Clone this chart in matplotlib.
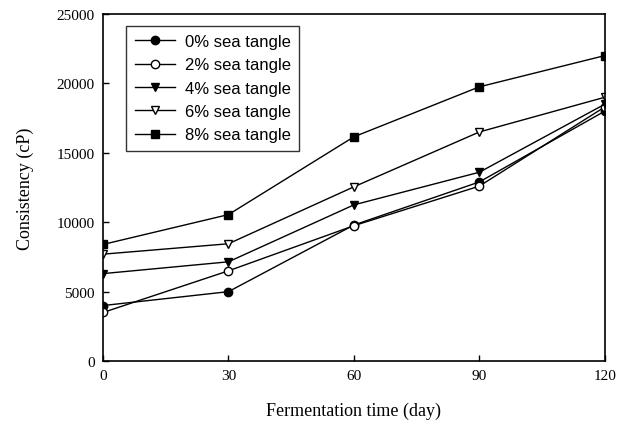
import matplotlib
matplotlib.use("Agg")
import matplotlib.pyplot as plt

# fermentation time (day)
days = [0, 30, 60, 90, 120]

# consistency (cP) per sea tangle level
sea0 = [4000, 5000, 9800, 12900, 18000]
sea2 = [3500, 6500, 9750, 12600, 18300]
sea4 = [6300, 7150, 11250, 13600, 18500]
sea6 = [7700, 8450, 12550, 16500, 19000]
sea8 = [8400, 10550, 16150, 19750, 22000]

labels = ["0% sea tangle", "2% sea tangle", "4% sea tangle",
          "6% sea tangle", "8% sea tangle"]

xticks = [0, 30, 60, 90, 120]
yticks = [0, 5000, 10000, 15000, 20000, 25000]

fig = plt.figure(figsize=(6.28, 4.27), dpi=100)
ax = fig.add_axes([0.164, 0.152, 0.799, 0.813])

serif = "Liberation Serif"
sans = "Liberation Sans"

ax.plot(days, sea0, color="black", lw=1, marker="o", ms=6,
        mfc="black", mec="black", label=labels[0])
ax.plot(days, sea2, color="black", lw=1, marker="o", ms=6,
        mfc="white", mec="black", label=labels[1])
ax.plot(days, sea4, color="black", lw=1, marker="v", ms=6,
        mfc="black", mec="black", label=labels[2])
ax.plot(days, sea6, color="black", lw=1, marker="v", ms=6,
        mfc="white", mec="black", label=labels[3])
ax.plot(days, sea8, color="black", lw=1, marker="s", ms=5.5,
        mfc="black", mec="black", label=labels[4])

ax.set_xlim(0, 120)
ax.set_ylim(0, 25000)
ax.set_xticks(xticks)
ax.set_yticks(yticks)
ax.tick_params(direction="in", length=4, width=1, top=False, right=False,
               labelsize=11, pad=6)
for lab in ax.get_xticklabels() + ax.get_yticklabels():
    lab.set_fontfamily(serif)
for s in ax.spines.values():
    s.set_linewidth(1.2)

ax.set_xlabel("Fermentation time (day)", fontsize=13, family=serif, labelpad=14)
ax.set_ylabel("Consistency (cP)", fontsize=13, family=serif, labelpad=16)

leg = ax.legend(loc="upper left", bbox_to_anchor=(0.03, 0.99),
                prop={"family": sans, "size": 12}, frameon=True,
                fancybox=False, edgecolor="black", handlelength=2.4,
                handletextpad=0.6, labelspacing=0.5, borderpad=0.5)
leg.get_frame().set_linewidth(1)

fig.savefig("out.png", dpi=100)
